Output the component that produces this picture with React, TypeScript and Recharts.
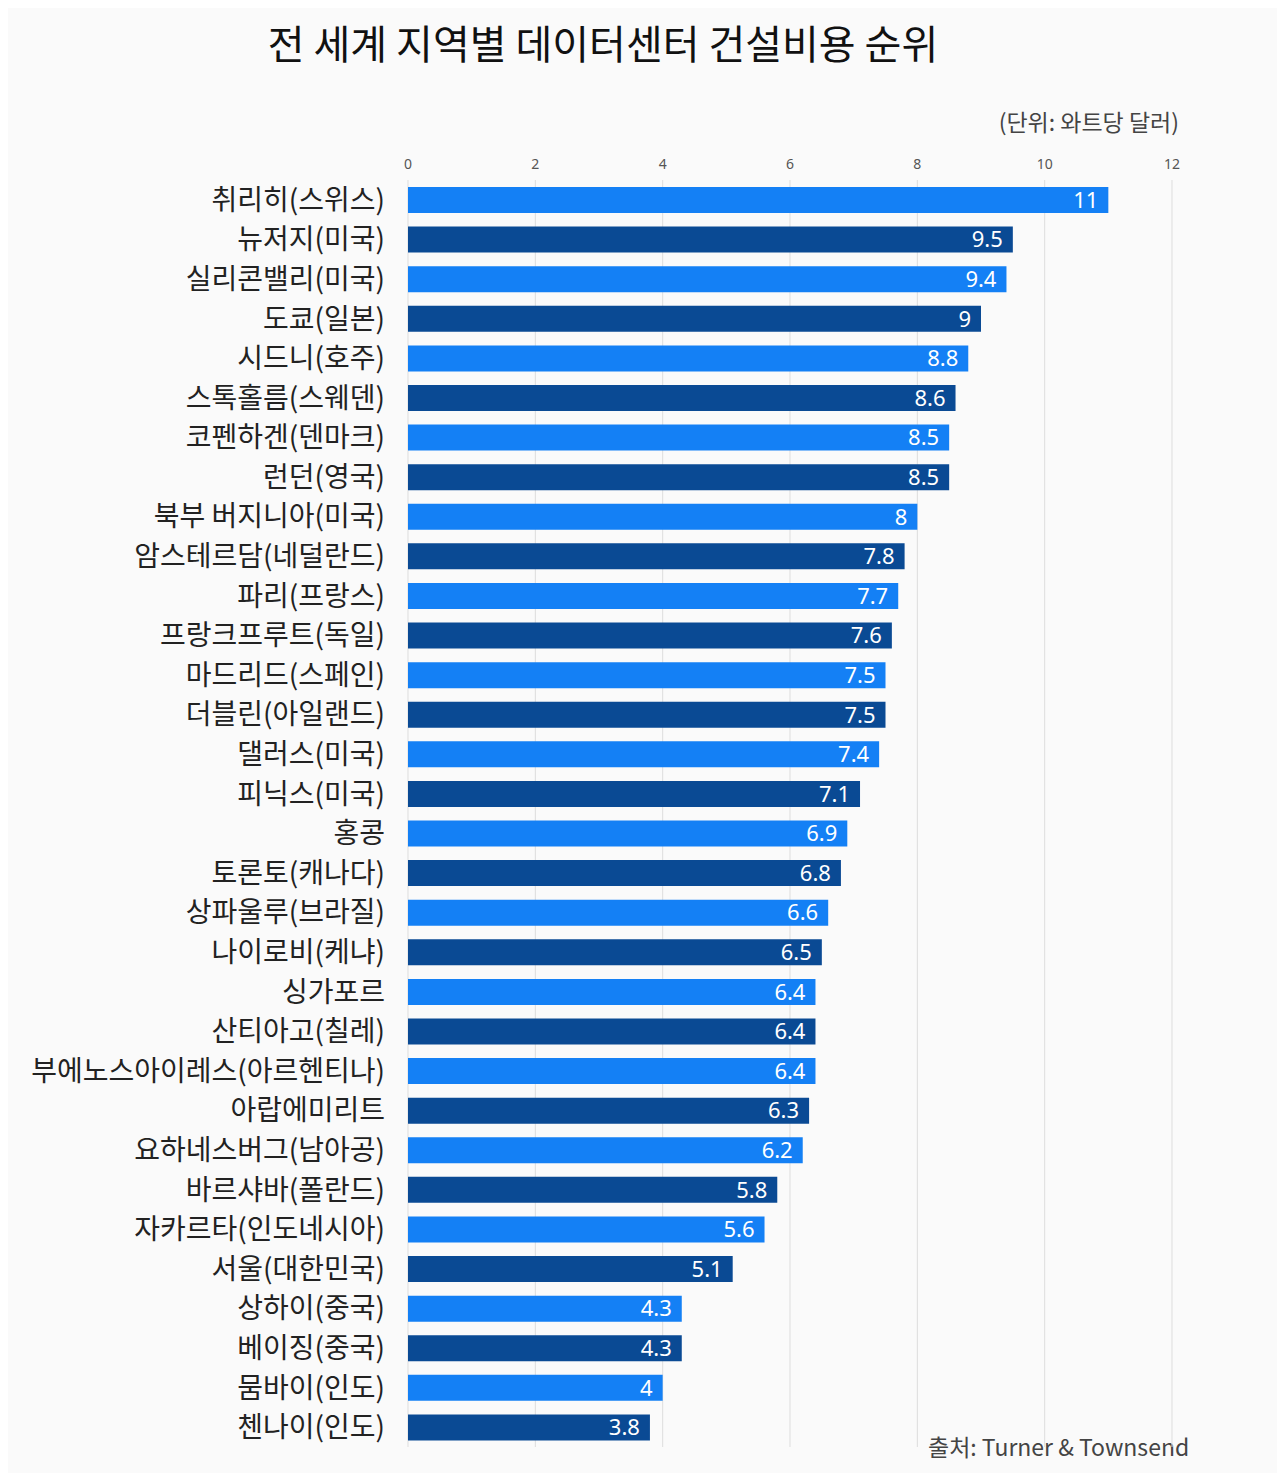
import React from "react";
import { BarChart, Bar, XAxis, YAxis, CartesianGrid, Cell, LabelList } from "recharts";

const cities = [
  "취리히(스위스)", "뉴저지(미국)", "실리콘밸리(미국)", "도쿄(일본)", "시드니(호주)",
  "스톡홀름(스웨덴)", "코펜하겐(덴마크)", "런던(영국)", "북부 버지니아(미국)", "암스테르담(네덜란드)",
  "파리(프랑스)", "프랑크프루트(독일)", "마드리드(스페인)", "더블린(아일랜드)", "댈러스(미국)",
  "피닉스(미국)", "홍콩", "토론토(캐나다)", "상파울루(브라질)", "나이로비(케냐)",
  "싱가포르", "산티아고(칠레)", "부에노스아이레스(아르헨티나)", "아랍에미리트", "요하네스버그(남아공)",
  "바르샤바(폴란드)", "자카르타(인도네시아)", "서울(대한민국)", "상하이(중국)", "베이징(중국)",
  "뭄바이(인도)", "첸나이(인도)",
];
const costs = [
  11, 9.5, 9.4, 9, 8.8, 8.6, 8.5, 8.5, 8, 7.8,
  7.7, 7.6, 7.5, 7.5, 7.4, 7.1, 6.9, 6.8, 6.6, 6.5,
  6.4, 6.4, 6.4, 6.3, 6.2, 5.8, 5.6, 5.1, 4.3, 4.3,
  4, 3.8,
];
const xTicks = [0, 2, 4, 6, 8, 10, 12];
const barColors = ["#1480f5", "#0a4a94"];

const title = "전 세계 지역별 데이터센터 건설비용 순위";
const unitText = "(단위: 와트당 달러)";
const sourceText = "출처: Turner & Townsend";

const data = cities.map((name, i) => ({ name, value: costs[i] }));

const FONT = "'Noto Sans CJK KR', 'Noto Sans', sans-serif";

export default function App() {
  return (
    <div style={{ position: "relative", width: 1270, height: 1465, background: "#fafafa", fontFamily: FONT }}>
      <div style={{ position: "absolute", left: 0, width: 1190, top: 8, textAlign: "center", fontSize: 40, color: "#111", lineHeight: "52px" }}>
        {title}
      </div>
      <div style={{ position: "absolute", right: 99, top: 98, fontSize: 23, color: "#444", lineHeight: "30px" }}>
        {unitText}
      </div>
      <div style={{ position: "absolute", left: 920, top: 1422, fontSize: 23, color: "#444", lineHeight: "32px" }}>
        {sourceText}
      </div>
      <div style={{ position: "absolute", left: 0, top: 0 }}>
        <BarChart
          width={1270}
          height={1460}
          data={data}
          layout="vertical"
          margin={{ top: 142, right: 106, bottom: 21, left: 0 }}
          barCategoryGap={13}
        >
          <CartesianGrid horizontal={false} vertical={true} stroke="#dddddd" />
          <XAxis
            type="number"
            orientation="top"
            domain={[0, 12]}
            ticks={xTicks}
            axisLine={false}
            tickLine={false}
            height={30}
            tickMargin={5}
            tick={{ fontSize: 14, fill: "#555", fontFamily: "'Noto Sans', sans-serif" }}
          />
          <YAxis
            type="category"
            dataKey="name"
            width={400}
            axisLine={false}
            tickLine={false}
            interval={0}
            tickMargin={17}
            tick={{ fontSize: 28, fill: "#222", fontFamily: FONT }}
          />
          <Bar dataKey="value" isAnimationActive={false} barSize={26}>
            {data.map((d, i) => (
              <Cell key={d.name} fill={barColors[i % 2]} />
            ))}
            <LabelList
              dataKey="value"
              position="insideRight"
              offset={10}
              fill="#ffffff"
              style={{ fontSize: 22, fontFamily: "'Noto Sans', sans-serif" }}
            />
          </Bar>
        </BarChart>
      </div>
    </div>
  );
}
